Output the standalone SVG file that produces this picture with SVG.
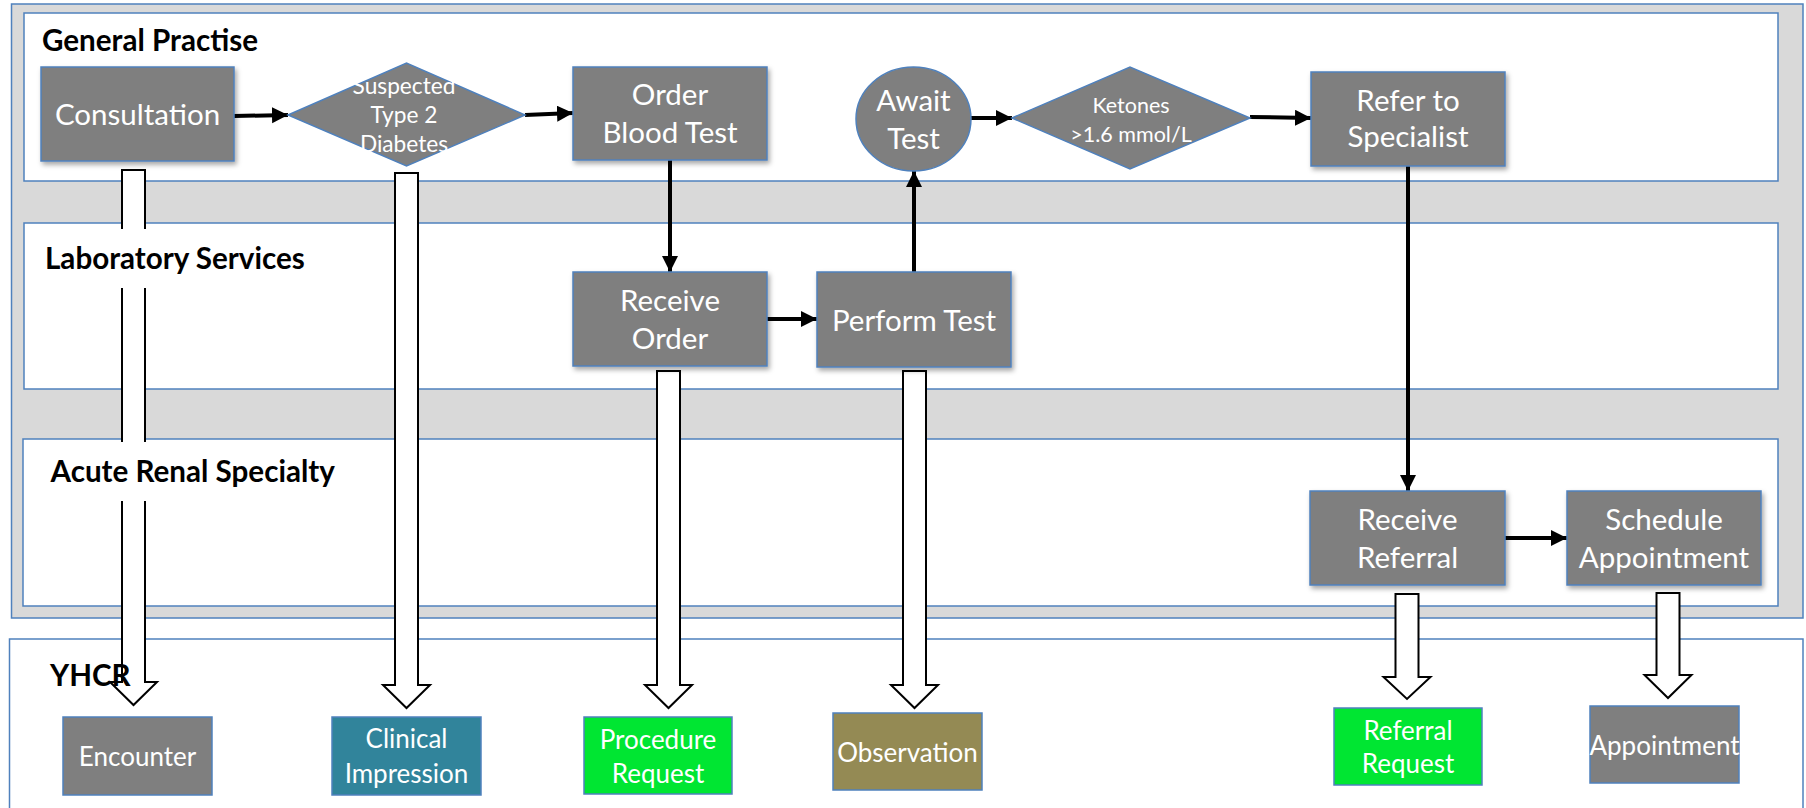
<svg xmlns="http://www.w3.org/2000/svg" width="1806" height="808" viewBox="0 0 1806 808">
  <style>
    .frame { fill: #d9d9d9; stroke: #4f81bd; stroke-width: 1.5; }
    .lane { fill: #ffffff; stroke: #4f81bd; stroke-width: 1.5; }
    .lane-title { font-family: Lato, "Liberation Sans", sans-serif; font-weight: bold; font-size: 29.6px; fill: #000000; }
    .step { fill: #7f7f7f; stroke: #4f81bd; stroke-width: 1.5; }
    .res { stroke: #4f81bd; stroke-width: 1.5; }
    .t-big { font-family: Lato, "Liberation Sans", sans-serif; font-size: 29.5px; fill: #ffffff; text-anchor: middle; }
    .t-mid { font-family: Lato, "Liberation Sans", sans-serif; font-size: 26px; fill: #ffffff; text-anchor: middle; }
    .t-small { font-family: Lato, "Liberation Sans", sans-serif; font-size: 21.5px; fill: #ffffff; text-anchor: middle; }
    .t-diag { font-family: Lato, "Liberation Sans", sans-serif; font-size: 22.7px; fill: #ffffff; text-anchor: middle; }
    .flow { stroke: #000000; stroke-width: 4; fill: none; marker-end: url(#head); }
    .block { fill: #ffffff; stroke: #000000; stroke-width: 2; stroke-linejoin: miter; }
  </style>
  <defs>
    <marker id="head" markerUnits="userSpaceOnUse" markerWidth="18" markerHeight="18" refX="16" refY="8" orient="auto">
      <path d="M0,0 L16,8 L0,16 z" fill="#000000"/>
    </marker>
    <filter id="shade" x="-10%" y="-10%" width="125%" height="135%">
      <feDropShadow dx="2" dy="3" stdDeviation="2.5" flood-color="#000000" flood-opacity="0.35"/>
    </filter>
  </defs>

  <!-- swimlane frame -->
  <g id="lanes">
    <rect class="frame" x="11.5" y="4" width="1791.5" height="614"/>
    <rect id="lane-gp" class="lane" x="24" y="13" width="1754" height="168"/>
    <rect id="lane-lab" class="lane" x="24" y="223" width="1754" height="166"/>
    <rect id="lane-renal" class="lane" x="23" y="439" width="1755" height="167"/>
    <rect id="lane-yhcr" class="lane" x="9.5" y="639" width="1793.5" height="200"/>
  </g>

  <!-- hollow block arrows from steps down to YHCR resources -->
  <g id="mappings">
    <polygon class="block" points="122,170 145,170 145,682 157,682 133.5,705 110,682 122,682"/>
    <polygon class="block" points="395,173 418,173 418,685 430,685 406.5,708 383,685 395,685"/>
    <polygon class="block" points="657,371 680,371 680,685 692,685 668.5,708 645,685 657,685"/>
    <polygon class="block" points="903,371 926,371 926,685 938,685 914.5,708 891,685 903,685"/>
    <polygon class="block" points="1395.5,594 1418.5,594 1418.5,677 1430.5,677 1407,699 1383.5,677 1395.5,677"/>
    <polygon class="block" points="1656.5,593 1679.5,593 1679.5,675 1691.5,675 1668,698 1644.5,675 1656.5,675"/>
  </g>

  <!-- lane titles (with their white text boxes) -->
  <g id="titles">
    <text class="lane-title" x="42" y="51">General Practise</text>
    <rect x="30" y="229" width="284" height="59" fill="#ffffff"/>
    <text class="lane-title" x="45" y="269">Laboratory Services</text>
    <rect x="35" y="442" width="316" height="59" fill="#ffffff"/>
    <text class="lane-title" x="50.5" y="482">Acute Renal Specialty</text>
    <text class="lane-title" x="50" y="686">YHCR</text>
  </g>

  <!-- flow connectors -->
  <g id="connectors">
    <line class="flow" x1="234" y1="116" x2="288" y2="115"/>
    <line class="flow" x1="525" y1="115" x2="573" y2="113"/>
    <line class="flow" x1="670" y1="160" x2="670" y2="272"/>
    <line class="flow" x1="767" y1="319" x2="817" y2="319"/>
    <line class="flow" x1="914" y1="272" x2="914" y2="171"/>
    <line class="flow" x1="971" y1="118" x2="1012" y2="118"/>
    <line class="flow" x1="1250" y1="117" x2="1311" y2="118"/>
    <line class="flow" x1="1408" y1="166" x2="1408" y2="491"/>
    <line class="flow" x1="1505" y1="538" x2="1567" y2="538"/>
  </g>

  <!-- General Practise -->
  <g id="consultation">
    <rect class="step" x="41" y="67" width="193" height="94" filter="url(#shade)"/>
    <text class="t-big" x="137.5" y="125">Consultation</text>
  </g>
  <g id="suspected-t2d">
    <polygon class="step" points="288,115 406.5,63 525,115 406.5,166"/>
    <text class="t-diag" x="404" y="94">Suspected</text>
    <text class="t-diag" x="404" y="123">Type 2</text>
    <text class="t-diag" x="404" y="152">Diabetes</text>
  </g>
  <g id="order-blood-test">
    <rect class="step" x="573" y="67" width="194" height="93" filter="url(#shade)"/>
    <text class="t-big" x="670" y="105">Order</text>
    <text class="t-big" x="670" y="143">Blood Test</text>
  </g>
  <g id="await-test">
    <ellipse class="step" cx="913.5" cy="119" rx="57.5" ry="52"/>
    <text class="t-big" x="913.5" y="111">Await</text>
    <text class="t-big" x="913.5" y="149">Test</text>
  </g>
  <g id="ketones">
    <polygon class="step" points="1012,118 1130,67 1250,118 1130,169"/>
    <text class="t-small" x="1131" y="113">Ketones</text>
    <text class="t-small" x="1131" y="142">&gt;1.6 mmol/L</text>
  </g>
  <g id="refer-to-specialist">
    <rect class="step" x="1311" y="72" width="194" height="94" filter="url(#shade)"/>
    <text class="t-big" x="1408" y="111">Refer to</text>
    <text class="t-big" x="1408" y="147">Specialist</text>
  </g>

  <!-- Laboratory Services -->
  <g id="receive-order">
    <rect class="step" x="573" y="272" width="194" height="94" filter="url(#shade)"/>
    <text class="t-big" x="670" y="311">Receive</text>
    <text class="t-big" x="670" y="349">Order</text>
  </g>
  <g id="perform-test">
    <rect class="step" x="817" y="272" width="194" height="95" filter="url(#shade)"/>
    <text class="t-big" x="914" y="331">Perform Test</text>
  </g>

  <!-- Acute Renal Specialty -->
  <g id="receive-referral">
    <rect class="step" x="1310" y="491" width="195" height="94" filter="url(#shade)"/>
    <text class="t-big" x="1407.5" y="530">Receive</text>
    <text class="t-big" x="1407.5" y="568">Referral</text>
  </g>
  <g id="schedule-appointment">
    <rect class="step" x="1567" y="491" width="194" height="94" filter="url(#shade)"/>
    <text class="t-big" x="1664" y="530">Schedule</text>
    <text class="t-big" x="1664" y="568">Appointment</text>
  </g>

  <!-- YHCR resources -->
  <g id="encounter">
    <rect class="res" x="63" y="717" width="149" height="78" fill="#7f7f7f"/>
    <text class="t-mid" x="137.5" y="766">Encounter</text>
  </g>
  <g id="clinical-impression">
    <rect class="res" x="332" y="717" width="149" height="78" fill="#31849b"/>
    <text class="t-mid" x="406.5" y="748">Clinical</text>
    <text class="t-mid" x="406.5" y="783">Impression</text>
  </g>
  <g id="procedure-request">
    <rect class="res" x="584" y="717" width="148" height="77" fill="#00e632"/>
    <text class="t-mid" x="658" y="749">Procedure</text>
    <text class="t-mid" x="658" y="783">Request</text>
  </g>
  <g id="observation">
    <rect class="res" x="833" y="713" width="149" height="77" fill="#948a54"/>
    <text class="t-mid" x="907.5" y="762">Observation</text>
  </g>
  <g id="referral-request">
    <rect class="res" x="1334" y="708" width="148" height="77" fill="#00e632"/>
    <text class="t-mid" x="1408" y="740">Referral</text>
    <text class="t-mid" x="1408" y="773">Request</text>
  </g>
  <g id="appointment">
    <rect class="res" x="1590" y="706" width="149" height="77" fill="#7f7f7f"/>
    <text class="t-mid" x="1664.5" y="755">Appointment</text>
  </g>
</svg>
